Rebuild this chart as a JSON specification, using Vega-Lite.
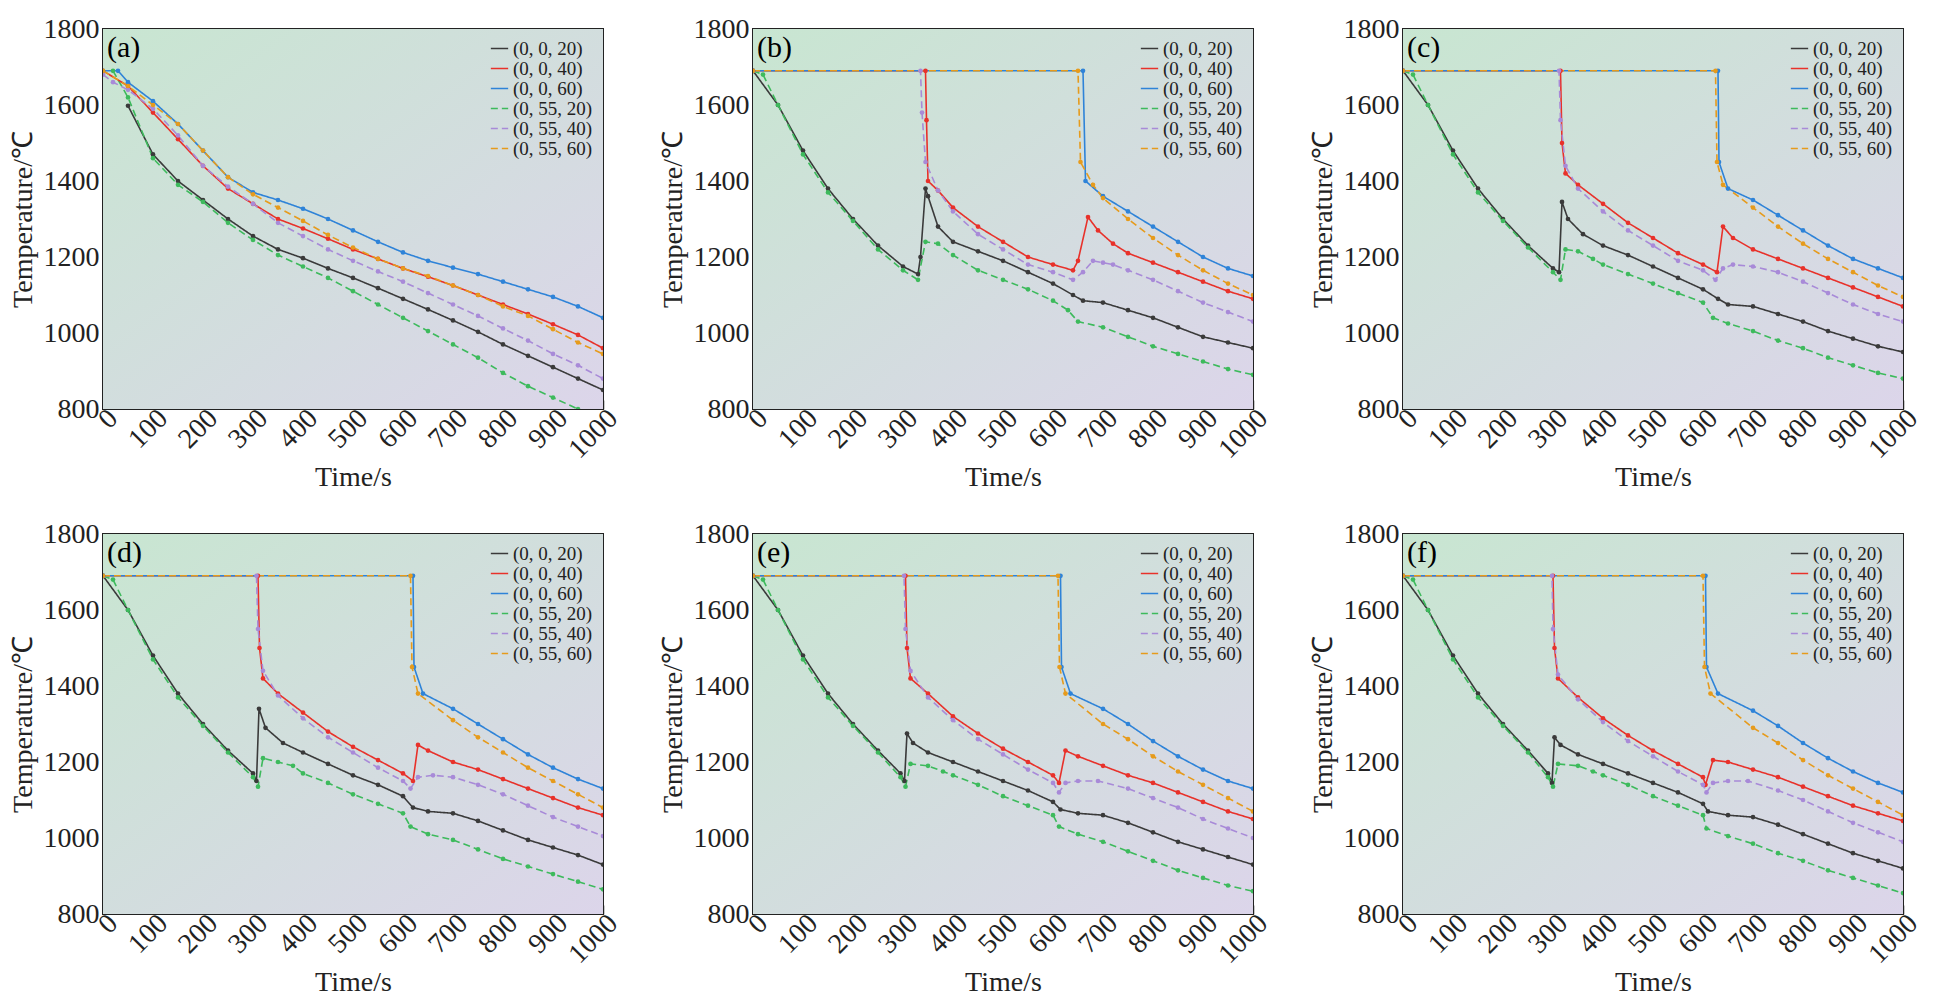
{
  "$schema": "https://vega.github.io/schema/vega-lite/v6.json",
  "padding": {"left": 8, "top": 14, "right": 24, "bottom": 5},
  "datasets": {
    "names": [
      {"k": 1, "s": "(0, 0, 20)"},
      {"k": 2, "s": "(0, 0, 40)"},
      {"k": 3, "s": "(0, 0, 60)"},
      {"k": 4, "s": "(0, 55, 20)"},
      {"k": 5, "s": "(0, 55, 40)"},
      {"k": 6, "s": "(0, 55, 60)"}
    ]
  },
  "data": {"values": "p,k,t,v\na,1,50,1598\na,1,100,1470\na,1,150,1400\na,1,200,1350\na,1,250,1300\na,1,300,1255\na,1,350,1220\na,1,400,1197\na,1,450,1170\na,1,500,1145\na,1,550,1118\na,1,600,1090\na,1,650,1062\na,1,700,1033\na,1,750,1003\na,1,800,970\na,1,850,940\na,1,900,910\na,1,950,880\na,1,1000,850\na,4,20,1690\na,4,50,1620\na,4,100,1460\na,4,150,1390\na,4,200,1345\na,4,250,1290\na,4,300,1245\na,4,350,1205\na,4,400,1175\na,4,450,1145\na,4,500,1110\na,4,550,1075\na,4,600,1040\na,4,650,1005\na,4,700,970\na,4,750,935\na,4,800,895\na,4,850,860\na,4,900,830\na,4,950,800\na,2,0,1690\na,2,50,1650\na,2,100,1580\na,2,150,1510\na,2,200,1440\na,2,250,1380\na,2,300,1340\na,2,350,1300\na,2,400,1275\na,2,450,1248\na,2,500,1220\na,2,550,1195\na,2,600,1170\na,2,650,1148\na,2,700,1125\na,2,750,1100\na,2,800,1075\na,2,850,1050\na,2,900,1023\na,2,950,995\na,2,1000,960\na,3,0,1690\na,3,30,1690\na,3,50,1660\na,3,100,1610\na,3,150,1550\na,3,200,1480\na,3,250,1410\na,3,300,1370\na,3,350,1350\na,3,400,1327\na,3,450,1300\na,3,500,1270\na,3,550,1240\na,3,600,1212\na,3,650,1190\na,3,700,1172\na,3,750,1155\na,3,800,1135\na,3,850,1115\na,3,900,1095\na,3,950,1070\na,3,1000,1040\na,5,0,1680\na,5,20,1660\na,5,50,1640\na,5,100,1590\na,5,150,1520\na,5,200,1440\na,5,250,1385\na,5,300,1340\na,5,350,1290\na,5,400,1255\na,5,450,1220\na,5,500,1190\na,5,550,1162\na,5,600,1135\na,5,650,1105\na,5,700,1075\na,5,750,1045\na,5,800,1012\na,5,850,980\na,5,900,945\na,5,950,915\na,5,1000,880\na,6,0,1690\na,6,50,1650\na,6,100,1600\na,6,150,1550\na,6,200,1480\na,6,250,1410\na,6,300,1365\na,6,350,1330\na,6,400,1295\na,6,450,1258\na,6,500,1225\na,6,550,1195\na,6,600,1170\na,6,650,1150\na,6,700,1125\na,6,750,1100\na,6,800,1070\na,6,850,1045\na,6,900,1010\na,6,950,975\na,6,1000,945\nb,1,0,1690\nb,1,50,1600\nb,1,100,1480\nb,1,150,1380\nb,1,200,1300\nb,1,250,1230\nb,1,300,1175\nb,1,330,1155\nb,1,335,1200\nb,1,345,1380\nb,1,350,1360\nb,1,370,1280\nb,1,400,1240\nb,1,450,1215\nb,1,500,1190\nb,1,550,1160\nb,1,600,1130\nb,1,640,1100\nb,1,660,1085\nb,1,700,1080\nb,1,750,1060\nb,1,800,1040\nb,1,850,1015\nb,1,900,990\nb,1,950,975\nb,1,1000,960\nb,4,0,1690\nb,4,20,1680\nb,4,50,1600\nb,4,100,1470\nb,4,150,1370\nb,4,200,1295\nb,4,250,1220\nb,4,300,1165\nb,4,330,1140\nb,4,345,1240\nb,4,370,1235\nb,4,400,1205\nb,4,450,1165\nb,4,500,1140\nb,4,550,1115\nb,4,600,1085\nb,4,630,1060\nb,4,650,1030\nb,4,700,1015\nb,4,750,990\nb,4,800,965\nb,4,850,945\nb,4,900,925\nb,4,950,905\nb,4,1000,890\nb,2,0,1690\nb,2,345,1690\nb,2,347,1560\nb,2,350,1400\nb,2,370,1375\nb,2,400,1330\nb,2,450,1280\nb,2,500,1240\nb,2,550,1200\nb,2,600,1180\nb,2,640,1165\nb,2,650,1190\nb,2,670,1305\nb,2,690,1270\nb,2,720,1235\nb,2,750,1210\nb,2,800,1185\nb,2,850,1160\nb,2,900,1135\nb,2,950,1110\nb,2,1000,1090\nb,5,0,1690\nb,5,335,1690\nb,5,338,1580\nb,5,345,1450\nb,5,370,1375\nb,5,400,1320\nb,5,450,1260\nb,5,500,1220\nb,5,550,1180\nb,5,600,1160\nb,5,640,1140\nb,5,660,1160\nb,5,680,1190\nb,5,700,1185\nb,5,720,1180\nb,5,750,1165\nb,5,800,1140\nb,5,850,1110\nb,5,900,1080\nb,5,950,1055\nb,5,1000,1030\nb,3,0,1690\nb,3,660,1690\nb,3,665,1400\nb,3,700,1360\nb,3,750,1320\nb,3,800,1280\nb,3,850,1240\nb,3,900,1200\nb,3,950,1170\nb,3,1000,1150\nb,6,0,1690\nb,6,650,1690\nb,6,655,1450\nb,6,680,1390\nb,6,700,1355\nb,6,750,1300\nb,6,800,1250\nb,6,850,1205\nb,6,900,1165\nb,6,950,1130\nb,6,1000,1100\nc,1,0,1690\nc,1,50,1600\nc,1,100,1480\nc,1,150,1380\nc,1,200,1300\nc,1,250,1230\nc,1,300,1170\nc,1,312,1160\nc,1,318,1345\nc,1,330,1300\nc,1,360,1260\nc,1,400,1230\nc,1,450,1205\nc,1,500,1175\nc,1,550,1145\nc,1,600,1115\nc,1,630,1090\nc,1,650,1075\nc,1,700,1070\nc,1,750,1050\nc,1,800,1030\nc,1,850,1005\nc,1,900,985\nc,1,950,965\nc,1,1000,950\nc,4,0,1690\nc,4,20,1680\nc,4,50,1600\nc,4,100,1470\nc,4,150,1370\nc,4,200,1295\nc,4,250,1225\nc,4,300,1160\nc,4,315,1140\nc,4,325,1220\nc,4,350,1215\nc,4,380,1195\nc,4,400,1180\nc,4,450,1155\nc,4,500,1130\nc,4,550,1105\nc,4,600,1080\nc,4,620,1040\nc,4,650,1025\nc,4,700,1005\nc,4,750,980\nc,4,800,960\nc,4,850,935\nc,4,900,915\nc,4,950,895\nc,4,1000,880\nc,2,0,1690\nc,2,315,1690\nc,2,318,1500\nc,2,325,1420\nc,2,350,1390\nc,2,400,1340\nc,2,450,1290\nc,2,500,1250\nc,2,550,1210\nc,2,600,1180\nc,2,628,1160\nc,2,640,1280\nc,2,660,1250\nc,2,700,1220\nc,2,750,1195\nc,2,800,1170\nc,2,850,1145\nc,2,900,1120\nc,2,950,1095\nc,2,1000,1070\nc,5,0,1690\nc,5,312,1690\nc,5,315,1560\nc,5,325,1440\nc,5,350,1380\nc,5,400,1320\nc,5,450,1270\nc,5,500,1230\nc,5,550,1190\nc,5,600,1165\nc,5,625,1140\nc,5,640,1170\nc,5,660,1180\nc,5,700,1175\nc,5,750,1160\nc,5,800,1135\nc,5,850,1105\nc,5,900,1075\nc,5,950,1050\nc,5,1000,1030\nc,3,0,1690\nc,3,630,1690\nc,3,632,1450\nc,3,650,1380\nc,3,700,1350\nc,3,750,1310\nc,3,800,1270\nc,3,850,1230\nc,3,900,1195\nc,3,950,1170\nc,3,1000,1145\nc,6,0,1690\nc,6,625,1690\nc,6,628,1450\nc,6,640,1390\nc,6,700,1330\nc,6,750,1280\nc,6,800,1235\nc,6,850,1195\nc,6,900,1160\nc,6,950,1125\nc,6,1000,1095\nd,1,0,1690\nd,1,50,1600\nd,1,100,1480\nd,1,150,1380\nd,1,200,1300\nd,1,250,1230\nd,1,300,1170\nd,1,307,1150\nd,1,312,1340\nd,1,325,1290\nd,1,360,1250\nd,1,400,1225\nd,1,450,1195\nd,1,500,1165\nd,1,550,1140\nd,1,600,1110\nd,1,620,1080\nd,1,650,1070\nd,1,700,1065\nd,1,750,1045\nd,1,800,1020\nd,1,850,995\nd,1,900,975\nd,1,950,955\nd,1,1000,930\nd,4,0,1690\nd,4,20,1680\nd,4,50,1600\nd,4,100,1470\nd,4,150,1370\nd,4,200,1295\nd,4,250,1225\nd,4,300,1160\nd,4,310,1135\nd,4,320,1210\nd,4,350,1200\nd,4,380,1190\nd,4,400,1170\nd,4,450,1145\nd,4,500,1115\nd,4,550,1090\nd,4,600,1065\nd,4,615,1030\nd,4,650,1010\nd,4,700,995\nd,4,750,970\nd,4,800,945\nd,4,850,925\nd,4,900,905\nd,4,950,885\nd,4,1000,865\nd,2,0,1690\nd,2,310,1690\nd,2,313,1500\nd,2,320,1420\nd,2,350,1380\nd,2,400,1330\nd,2,450,1280\nd,2,500,1240\nd,2,550,1205\nd,2,600,1170\nd,2,620,1150\nd,2,630,1245\nd,2,650,1230\nd,2,700,1200\nd,2,750,1180\nd,2,800,1155\nd,2,850,1130\nd,2,900,1105\nd,2,950,1080\nd,2,1000,1060\nd,5,0,1690\nd,5,307,1690\nd,5,310,1550\nd,5,320,1440\nd,5,350,1375\nd,5,400,1315\nd,5,450,1265\nd,5,500,1225\nd,5,550,1185\nd,5,600,1150\nd,5,615,1130\nd,5,630,1160\nd,5,660,1165\nd,5,700,1160\nd,5,750,1140\nd,5,800,1115\nd,5,850,1085\nd,5,900,1055\nd,5,950,1030\nd,5,1000,1005\nd,3,0,1690\nd,3,620,1690\nd,3,622,1450\nd,3,640,1380\nd,3,700,1340\nd,3,750,1300\nd,3,800,1260\nd,3,850,1220\nd,3,900,1185\nd,3,950,1155\nd,3,1000,1130\nd,6,0,1690\nd,6,615,1690\nd,6,618,1450\nd,6,630,1380\nd,6,700,1310\nd,6,750,1265\nd,6,800,1225\nd,6,850,1185\nd,6,900,1150\nd,6,950,1115\nd,6,1000,1080\ne,1,0,1690\ne,1,50,1600\ne,1,100,1480\ne,1,150,1380\ne,1,200,1300\ne,1,250,1230\ne,1,295,1170\ne,1,303,1150\ne,1,308,1275\ne,1,320,1250\ne,1,350,1225\ne,1,400,1200\ne,1,450,1175\ne,1,500,1150\ne,1,550,1125\ne,1,600,1095\ne,1,615,1075\ne,1,650,1065\ne,1,700,1060\ne,1,750,1040\ne,1,800,1015\ne,1,850,990\ne,1,900,970\ne,1,950,950\ne,1,1000,930\ne,4,0,1690\ne,4,20,1680\ne,4,50,1600\ne,4,100,1470\ne,4,150,1370\ne,4,200,1295\ne,4,250,1225\ne,4,295,1160\ne,4,305,1135\ne,4,315,1195\ne,4,350,1190\ne,4,380,1175\ne,4,400,1165\ne,4,450,1140\ne,4,500,1110\ne,4,550,1085\ne,4,600,1060\ne,4,612,1030\ne,4,650,1010\ne,4,700,990\ne,4,750,965\ne,4,800,940\ne,4,850,915\ne,4,900,895\ne,4,950,875\ne,4,1000,860\ne,2,0,1690\ne,2,305,1690\ne,2,308,1500\ne,2,315,1420\ne,2,350,1380\ne,2,400,1320\ne,2,450,1275\ne,2,500,1235\ne,2,550,1200\ne,2,600,1165\ne,2,612,1145\ne,2,625,1230\ne,2,650,1215\ne,2,700,1190\ne,2,750,1165\ne,2,800,1145\ne,2,850,1120\ne,2,900,1095\ne,2,950,1070\ne,2,1000,1050\ne,5,0,1690\ne,5,302,1690\ne,5,305,1550\ne,5,315,1440\ne,5,350,1370\ne,5,400,1310\ne,5,450,1260\ne,5,500,1220\ne,5,550,1180\ne,5,600,1145\ne,5,612,1120\ne,5,625,1145\ne,5,650,1150\ne,5,690,1150\ne,5,750,1130\ne,5,800,1105\ne,5,850,1080\ne,5,900,1050\ne,5,950,1025\ne,5,1000,1000\ne,3,0,1690\ne,3,615,1690\ne,3,617,1450\ne,3,635,1380\ne,3,700,1340\ne,3,750,1300\ne,3,800,1255\ne,3,850,1215\ne,3,900,1180\ne,3,950,1150\ne,3,1000,1130\ne,6,0,1690\ne,6,610,1690\ne,6,613,1450\ne,6,625,1380\ne,6,700,1300\ne,6,750,1260\ne,6,800,1215\ne,6,850,1175\ne,6,900,1140\ne,6,950,1105\ne,6,1000,1070\nf,1,0,1690\nf,1,50,1600\nf,1,100,1480\nf,1,150,1380\nf,1,200,1300\nf,1,250,1230\nf,1,290,1170\nf,1,298,1145\nf,1,303,1265\nf,1,315,1245\nf,1,350,1220\nf,1,400,1195\nf,1,450,1170\nf,1,500,1145\nf,1,550,1120\nf,1,600,1090\nf,1,610,1070\nf,1,650,1060\nf,1,700,1055\nf,1,750,1035\nf,1,800,1010\nf,1,850,985\nf,1,900,960\nf,1,950,940\nf,1,1000,920\nf,4,0,1690\nf,4,20,1680\nf,4,50,1600\nf,4,100,1470\nf,4,150,1370\nf,4,200,1295\nf,4,250,1225\nf,4,290,1160\nf,4,300,1135\nf,4,310,1195\nf,4,350,1190\nf,4,380,1175\nf,4,400,1165\nf,4,450,1140\nf,4,500,1110\nf,4,550,1085\nf,4,600,1060\nf,4,607,1025\nf,4,650,1005\nf,4,700,985\nf,4,750,960\nf,4,800,940\nf,4,850,915\nf,4,900,895\nf,4,950,875\nf,4,1000,855\nf,2,0,1690\nf,2,300,1690\nf,2,303,1500\nf,2,310,1420\nf,2,350,1370\nf,2,400,1315\nf,2,450,1270\nf,2,500,1230\nf,2,550,1195\nf,2,600,1160\nf,2,605,1140\nf,2,620,1205\nf,2,650,1200\nf,2,700,1180\nf,2,750,1160\nf,2,800,1135\nf,2,850,1110\nf,2,900,1085\nf,2,950,1065\nf,2,1000,1045\nf,5,0,1690\nf,5,298,1690\nf,5,300,1550\nf,5,310,1430\nf,5,350,1365\nf,5,400,1305\nf,5,450,1255\nf,5,500,1215\nf,5,550,1175\nf,5,600,1140\nf,5,607,1120\nf,5,620,1145\nf,5,650,1150\nf,5,690,1150\nf,5,750,1125\nf,5,800,1100\nf,5,850,1070\nf,5,900,1040\nf,5,950,1015\nf,5,1000,990\nf,3,0,1690\nf,3,605,1690\nf,3,607,1450\nf,3,630,1380\nf,3,700,1335\nf,3,750,1295\nf,3,800,1250\nf,3,850,1210\nf,3,900,1175\nf,3,950,1145\nf,3,1000,1120\nf,6,0,1690\nf,6,600,1690\nf,6,603,1450\nf,6,615,1380\nf,6,700,1290\nf,6,750,1250\nf,6,800,1205\nf,6,850,1165\nf,6,900,1130\nf,6,950,1095\nf,6,1000,1060\n", "format": {"type": "csv", "parse": {"k": "number", "t": "number", "v": "number"}}},
  "transform": [
    {"lookup": "k", "from": {"data": {"name": "names"}, "key": "k", "fields": ["s"]}}
  ],
  "columns": 3,
  "spacing": {"column": 34, "row": 26},
  "resolve": {"scale": {"color": "independent", "strokeDash": "independent"}},
  "concat": [
    {"width": 500, "height": 380, "layer": [
      {"data": {"values": [{}]}, "mark": {"type": "rect", "color": {"gradient": "linear", "x1": 0, "y1": 0, "x2": 1, "y2": 1, "stops": [{"offset": 0, "color": "#c8e6d1"}, {"offset": 1, "color": "#dcd5ea"}]}},
        "encoding": {
          "x": {"datum": 0, "type": "quantitative", "scale": {"domain": [0, 1000], "nice": false}, "axis": {"title": "Time/s", "values": [0, 100, 200, 300, 400, 500, 600, 700, 800, 900, 1000], "format": "d"}},
          "x2": {"datum": 1000},
          "y": {"datum": 800, "type": "quantitative", "scale": {"domain": [800, 1800], "nice": false, "zero": false}, "axis": {"title": "Temperature/℃", "values": [800, 1000, 1200, 1400, 1600, 1800], "format": "d"}},
          "y2": {"datum": 1800}}},
      {"transform": [{"filter": "datum.p == 'a'"}], "mark": {"type": "line", "strokeWidth": 1.6, "clip": true},
        "encoding": {"x": {"field": "t", "type": "quantitative"}, "y": {"field": "v", "type": "quantitative"},
          "color": {"field": "s", "title": null, "scale": {"domain": ["(0, 0, 20)", "(0, 0, 40)", "(0, 0, 60)", "(0, 55, 20)", "(0, 55, 40)", "(0, 55, 60)"]}},
          "strokeDash": {"field": "s", "title": null, "scale": {"domain": ["(0, 0, 20)", "(0, 0, 40)", "(0, 0, 60)", "(0, 55, 20)", "(0, 55, 40)", "(0, 55, 60)"], "range": [[1, 0], [1, 0], [1, 0], [7, 4], [7, 4], [7, 4]]}}}},
      {"transform": [{"filter": "datum.p == 'a'"}], "mark": {"type": "circle", "size": 22, "opacity": 1, "clip": true},
        "encoding": {"x": {"field": "t", "type": "quantitative"}, "y": {"field": "v", "type": "quantitative"}, "color": {"field": "s", "title": null}}},
      {"data": {"values": [{}]}, "mark": {"type": "text", "text": "(a)", "align": "left", "fontSize": 30, "font": "Liberation Serif"},
        "encoding": {"x": {"datum": 8, "type": "quantitative"}, "y": {"datum": 1750, "type": "quantitative"}}}
    ]},
    {"width": 500, "height": 380, "layer": [
      {"data": {"values": [{}]}, "mark": {"type": "rect", "color": {"gradient": "linear", "x1": 0, "y1": 0, "x2": 1, "y2": 1, "stops": [{"offset": 0, "color": "#c8e6d1"}, {"offset": 1, "color": "#dcd5ea"}]}},
        "encoding": {
          "x": {"datum": 0, "type": "quantitative", "scale": {"domain": [0, 1000], "nice": false}, "axis": {"title": "Time/s", "values": [0, 100, 200, 300, 400, 500, 600, 700, 800, 900, 1000], "format": "d"}},
          "x2": {"datum": 1000},
          "y": {"datum": 800, "type": "quantitative", "scale": {"domain": [800, 1800], "nice": false, "zero": false}, "axis": {"title": "Temperature/℃", "values": [800, 1000, 1200, 1400, 1600, 1800], "format": "d"}},
          "y2": {"datum": 1800}}},
      {"transform": [{"filter": "datum.p == 'b'"}], "mark": {"type": "line", "strokeWidth": 1.6, "clip": true},
        "encoding": {"x": {"field": "t", "type": "quantitative"}, "y": {"field": "v", "type": "quantitative"},
          "color": {"field": "s", "title": null, "scale": {"domain": ["(0, 0, 20)", "(0, 0, 40)", "(0, 0, 60)", "(0, 55, 20)", "(0, 55, 40)", "(0, 55, 60)"]}},
          "strokeDash": {"field": "s", "title": null, "scale": {"domain": ["(0, 0, 20)", "(0, 0, 40)", "(0, 0, 60)", "(0, 55, 20)", "(0, 55, 40)", "(0, 55, 60)"], "range": [[1, 0], [1, 0], [1, 0], [7, 4], [7, 4], [7, 4]]}}}},
      {"transform": [{"filter": "datum.p == 'b'"}], "mark": {"type": "circle", "size": 22, "opacity": 1, "clip": true},
        "encoding": {"x": {"field": "t", "type": "quantitative"}, "y": {"field": "v", "type": "quantitative"}, "color": {"field": "s", "title": null}}},
      {"data": {"values": [{}]}, "mark": {"type": "text", "text": "(b)", "align": "left", "fontSize": 30, "font": "Liberation Serif"},
        "encoding": {"x": {"datum": 8, "type": "quantitative"}, "y": {"datum": 1750, "type": "quantitative"}}}
    ]},
    {"width": 500, "height": 380, "layer": [
      {"data": {"values": [{}]}, "mark": {"type": "rect", "color": {"gradient": "linear", "x1": 0, "y1": 0, "x2": 1, "y2": 1, "stops": [{"offset": 0, "color": "#c8e6d1"}, {"offset": 1, "color": "#dcd5ea"}]}},
        "encoding": {
          "x": {"datum": 0, "type": "quantitative", "scale": {"domain": [0, 1000], "nice": false}, "axis": {"title": "Time/s", "values": [0, 100, 200, 300, 400, 500, 600, 700, 800, 900, 1000], "format": "d"}},
          "x2": {"datum": 1000},
          "y": {"datum": 800, "type": "quantitative", "scale": {"domain": [800, 1800], "nice": false, "zero": false}, "axis": {"title": "Temperature/℃", "values": [800, 1000, 1200, 1400, 1600, 1800], "format": "d"}},
          "y2": {"datum": 1800}}},
      {"transform": [{"filter": "datum.p == 'c'"}], "mark": {"type": "line", "strokeWidth": 1.6, "clip": true},
        "encoding": {"x": {"field": "t", "type": "quantitative"}, "y": {"field": "v", "type": "quantitative"},
          "color": {"field": "s", "title": null, "scale": {"domain": ["(0, 0, 20)", "(0, 0, 40)", "(0, 0, 60)", "(0, 55, 20)", "(0, 55, 40)", "(0, 55, 60)"]}},
          "strokeDash": {"field": "s", "title": null, "scale": {"domain": ["(0, 0, 20)", "(0, 0, 40)", "(0, 0, 60)", "(0, 55, 20)", "(0, 55, 40)", "(0, 55, 60)"], "range": [[1, 0], [1, 0], [1, 0], [7, 4], [7, 4], [7, 4]]}}}},
      {"transform": [{"filter": "datum.p == 'c'"}], "mark": {"type": "circle", "size": 22, "opacity": 1, "clip": true},
        "encoding": {"x": {"field": "t", "type": "quantitative"}, "y": {"field": "v", "type": "quantitative"}, "color": {"field": "s", "title": null}}},
      {"data": {"values": [{}]}, "mark": {"type": "text", "text": "(c)", "align": "left", "fontSize": 30, "font": "Liberation Serif"},
        "encoding": {"x": {"datum": 8, "type": "quantitative"}, "y": {"datum": 1750, "type": "quantitative"}}}
    ]},
    {"width": 500, "height": 380, "layer": [
      {"data": {"values": [{}]}, "mark": {"type": "rect", "color": {"gradient": "linear", "x1": 0, "y1": 0, "x2": 1, "y2": 1, "stops": [{"offset": 0, "color": "#c8e6d1"}, {"offset": 1, "color": "#dcd5ea"}]}},
        "encoding": {
          "x": {"datum": 0, "type": "quantitative", "scale": {"domain": [0, 1000], "nice": false}, "axis": {"title": "Time/s", "values": [0, 100, 200, 300, 400, 500, 600, 700, 800, 900, 1000], "format": "d"}},
          "x2": {"datum": 1000},
          "y": {"datum": 800, "type": "quantitative", "scale": {"domain": [800, 1800], "nice": false, "zero": false}, "axis": {"title": "Temperature/℃", "values": [800, 1000, 1200, 1400, 1600, 1800], "format": "d"}},
          "y2": {"datum": 1800}}},
      {"transform": [{"filter": "datum.p == 'd'"}], "mark": {"type": "line", "strokeWidth": 1.6, "clip": true},
        "encoding": {"x": {"field": "t", "type": "quantitative"}, "y": {"field": "v", "type": "quantitative"},
          "color": {"field": "s", "title": null, "scale": {"domain": ["(0, 0, 20)", "(0, 0, 40)", "(0, 0, 60)", "(0, 55, 20)", "(0, 55, 40)", "(0, 55, 60)"]}},
          "strokeDash": {"field": "s", "title": null, "scale": {"domain": ["(0, 0, 20)", "(0, 0, 40)", "(0, 0, 60)", "(0, 55, 20)", "(0, 55, 40)", "(0, 55, 60)"], "range": [[1, 0], [1, 0], [1, 0], [7, 4], [7, 4], [7, 4]]}}}},
      {"transform": [{"filter": "datum.p == 'd'"}], "mark": {"type": "circle", "size": 22, "opacity": 1, "clip": true},
        "encoding": {"x": {"field": "t", "type": "quantitative"}, "y": {"field": "v", "type": "quantitative"}, "color": {"field": "s", "title": null}}},
      {"data": {"values": [{}]}, "mark": {"type": "text", "text": "(d)", "align": "left", "fontSize": 30, "font": "Liberation Serif"},
        "encoding": {"x": {"datum": 8, "type": "quantitative"}, "y": {"datum": 1750, "type": "quantitative"}}}
    ]},
    {"width": 500, "height": 380, "layer": [
      {"data": {"values": [{}]}, "mark": {"type": "rect", "color": {"gradient": "linear", "x1": 0, "y1": 0, "x2": 1, "y2": 1, "stops": [{"offset": 0, "color": "#c8e6d1"}, {"offset": 1, "color": "#dcd5ea"}]}},
        "encoding": {
          "x": {"datum": 0, "type": "quantitative", "scale": {"domain": [0, 1000], "nice": false}, "axis": {"title": "Time/s", "values": [0, 100, 200, 300, 400, 500, 600, 700, 800, 900, 1000], "format": "d"}},
          "x2": {"datum": 1000},
          "y": {"datum": 800, "type": "quantitative", "scale": {"domain": [800, 1800], "nice": false, "zero": false}, "axis": {"title": "Temperature/℃", "values": [800, 1000, 1200, 1400, 1600, 1800], "format": "d"}},
          "y2": {"datum": 1800}}},
      {"transform": [{"filter": "datum.p == 'e'"}], "mark": {"type": "line", "strokeWidth": 1.6, "clip": true},
        "encoding": {"x": {"field": "t", "type": "quantitative"}, "y": {"field": "v", "type": "quantitative"},
          "color": {"field": "s", "title": null, "scale": {"domain": ["(0, 0, 20)", "(0, 0, 40)", "(0, 0, 60)", "(0, 55, 20)", "(0, 55, 40)", "(0, 55, 60)"]}},
          "strokeDash": {"field": "s", "title": null, "scale": {"domain": ["(0, 0, 20)", "(0, 0, 40)", "(0, 0, 60)", "(0, 55, 20)", "(0, 55, 40)", "(0, 55, 60)"], "range": [[1, 0], [1, 0], [1, 0], [7, 4], [7, 4], [7, 4]]}}}},
      {"transform": [{"filter": "datum.p == 'e'"}], "mark": {"type": "circle", "size": 22, "opacity": 1, "clip": true},
        "encoding": {"x": {"field": "t", "type": "quantitative"}, "y": {"field": "v", "type": "quantitative"}, "color": {"field": "s", "title": null}}},
      {"data": {"values": [{}]}, "mark": {"type": "text", "text": "(e)", "align": "left", "fontSize": 30, "font": "Liberation Serif"},
        "encoding": {"x": {"datum": 8, "type": "quantitative"}, "y": {"datum": 1750, "type": "quantitative"}}}
    ]},
    {"width": 500, "height": 380, "layer": [
      {"data": {"values": [{}]}, "mark": {"type": "rect", "color": {"gradient": "linear", "x1": 0, "y1": 0, "x2": 1, "y2": 1, "stops": [{"offset": 0, "color": "#c8e6d1"}, {"offset": 1, "color": "#dcd5ea"}]}},
        "encoding": {
          "x": {"datum": 0, "type": "quantitative", "scale": {"domain": [0, 1000], "nice": false}, "axis": {"title": "Time/s", "values": [0, 100, 200, 300, 400, 500, 600, 700, 800, 900, 1000], "format": "d"}},
          "x2": {"datum": 1000},
          "y": {"datum": 800, "type": "quantitative", "scale": {"domain": [800, 1800], "nice": false, "zero": false}, "axis": {"title": "Temperature/℃", "values": [800, 1000, 1200, 1400, 1600, 1800], "format": "d"}},
          "y2": {"datum": 1800}}},
      {"transform": [{"filter": "datum.p == 'f'"}], "mark": {"type": "line", "strokeWidth": 1.6, "clip": true},
        "encoding": {"x": {"field": "t", "type": "quantitative"}, "y": {"field": "v", "type": "quantitative"},
          "color": {"field": "s", "title": null, "scale": {"domain": ["(0, 0, 20)", "(0, 0, 40)", "(0, 0, 60)", "(0, 55, 20)", "(0, 55, 40)", "(0, 55, 60)"]}},
          "strokeDash": {"field": "s", "title": null, "scale": {"domain": ["(0, 0, 20)", "(0, 0, 40)", "(0, 0, 60)", "(0, 55, 20)", "(0, 55, 40)", "(0, 55, 60)"], "range": [[1, 0], [1, 0], [1, 0], [7, 4], [7, 4], [7, 4]]}}}},
      {"transform": [{"filter": "datum.p == 'f'"}], "mark": {"type": "circle", "size": 22, "opacity": 1, "clip": true},
        "encoding": {"x": {"field": "t", "type": "quantitative"}, "y": {"field": "v", "type": "quantitative"}, "color": {"field": "s", "title": null}}},
      {"data": {"values": [{}]}, "mark": {"type": "text", "text": "(f)", "align": "left", "fontSize": 30, "font": "Liberation Serif"},
        "encoding": {"x": {"datum": 8, "type": "quantitative"}, "y": {"datum": 1750, "type": "quantitative"}}}
    ]}
  ],
  "config": {
    "font": "Liberation Serif",
    "view": {"stroke": "#222", "strokeWidth": 2},
    "axis": {"grid": false, "labelFontSize": 28, "titleFontSize": 28, "titleFontWeight": "normal", "titleColor": "#222", "labelColor": "#222", "domainColor": "#222", "tickColor": "#222", "labelPadding": 4, "labelFont": "Liberation Serif", "titleFont": "Liberation Serif", "labelOverlap": false},
    "axisX": {"labelAngle": -45, "labelAlign": "right", "labelBaseline": "top", "tickSize": -9, "tickWidth": 1.5, "titlePadding": 0, "labelFont": "Liberation Serif", "titleFont": "Liberation Serif", "labelOverlap": false, "labelFlush": false},
    "axisY": {"ticks": false, "titlePadding": 6, "labelFont": "Liberation Serif", "titleFont": "Liberation Serif"},
    "legend": {"orient": "top-right", "offset": 10, "labelFontSize": 19, "labelFont": "Liberation Serif", "rowPadding": 0, "symbolType": "stroke", "symbolSize": 300, "symbolStrokeWidth": 1.6, "labelColor": "#222"},
    "range": {"category": ["#3a3a3a", "#e8312a", "#2e83d8", "#3dba5c", "#a88ad8", "#e69b1c"]}
  }
}
